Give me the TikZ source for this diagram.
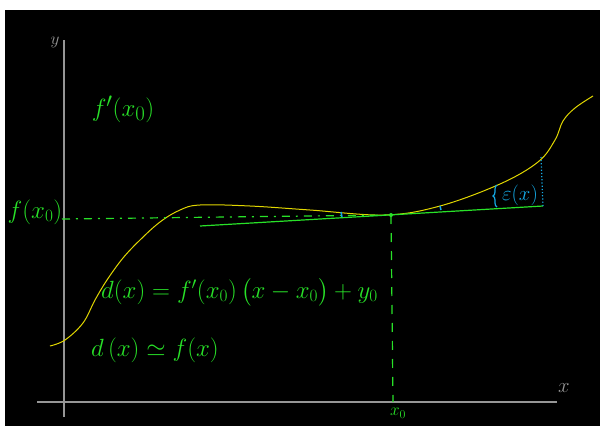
\documentclass[tikz,border=0pt]{standalone}
\usepackage{amsmath}
\usepackage{amssymb}
\usetikzlibrary{positioning, calc, decorations.pathreplacing}

\definecolor{chalkgreen}{RGB}{40,225,40}
\definecolor{chalkyellow}{RGB}{225,215,0}
\definecolor{chalkblue}{RGB}{20,170,230}
\definecolor{chalkgray}{RGB}{150,150,150}

\tikzset{
    axisline/.style={chalkgray, line width=1.2pt},
    greenlabel/.style={chalkgreen, inner sep=1pt},
}

\begin{document}
\begin{tikzpicture}[x=1pt, y=-1pt]
    % Background: white margin, black board
    \useasboundingbox (0,0) rectangle (600,426);
    \fill[white] (0,0) rectangle (600,426);
    \fill[black] (5,10) rectangle (600,426);

    % Axes
    \coordinate (ytop) at (64,40);
    \coordinate (ybot) at (64,417);
    \coordinate (xleft) at (37,402);
    \coordinate (xright) at (557,402);
    \draw[axisline] (ybot) -- (ytop);
    \draw[axisline] (xleft) -- (xright);
    \node[chalkgray, font=\fontsize{18}{20}\selectfont] (ylab) at (55,42) {$y$};
    \node[chalkgray, font=\fontsize{21}{23}\selectfont] (xlab) at (564,388) {$x$};

    % The function f
    \draw[chalkyellow, line width=1pt] plot[smooth, tension=0.6] coordinates {
        (50,346) (65,340) (83,323) (95,300) (107,280) (123,258) (140,240)
        (160,222) (180,210) (200,205) (250,206) (310,210) (385,215) (440,206)
        (500,184) (538,162) (555,140) (563,121) (575,108) (593,96)};

    % Point of tangency and tangent d(x)
    \coordinate (x0) at (391,215);
    \coordinate (tanleft) at (200,226);
    \coordinate (tanright) at (543,206);
    \draw[chalkgreen, line width=1.2pt] (tanleft) -- (tanright);
    \fill[chalkgreen] (x0) circle (2pt);

    % f(x0) on the y axis
    \node[greenlabel, font=\fontsize{25}{27}\selectfont] (fx0) at (35,212) {$f(x_0)$};
    \draw[chalkgreen, line width=1.2pt, dash pattern=on 8pt off 6pt on 2pt off 6pt]
        (62,219) -- (x0);

    % x0 on the x axis
    \coordinate (x0foot) at (393,402);
    \draw[chalkgreen, line width=1.2pt, dash pattern=on 9pt off 9pt] (x0) -- (x0foot);
    \node[greenlabel, font=\fontsize{18}{20}\selectfont] (x0lab) at (398,413) {$x_0$};

    % Slope label
    \node[greenlabel, font=\fontsize{28}{30}\selectfont] (slope) at (123,109) {$f'(x_0)$};

    % Error epsilon(x)
    \coordinate (errtop) at (541,157);
    \draw[chalkblue, line width=1.2pt, dotted] (tanright) -- (errtop);
    \draw[chalkblue, line width=1.2pt, decorate, decoration={brace, amplitude=4pt}]
        (497,207) -- (497,185);
    \node[chalkblue, font=\fontsize{20}{22}\selectfont] (eps) at (520,195) {$\varepsilon(x)$};
    \draw[chalkblue, line width=1.5pt] (341,212) -- (342,217);
    \draw[chalkblue, line width=1.5pt] (440,206) -- (441,210);

    % Equations
    \node[greenlabel, font=\fontsize{23}{26}\selectfont, anchor=west] (tangent) at (100,292)
        {$d(x) = f'(x_0)\,\big(x - x_0\big) + y_0$};
    \node[greenlabel, font=\fontsize{24}{26}\selectfont, anchor=west] (approx) at (90,350)
        {$d\,(x) \simeq f(x)$};
\end{tikzpicture}
\end{document}
